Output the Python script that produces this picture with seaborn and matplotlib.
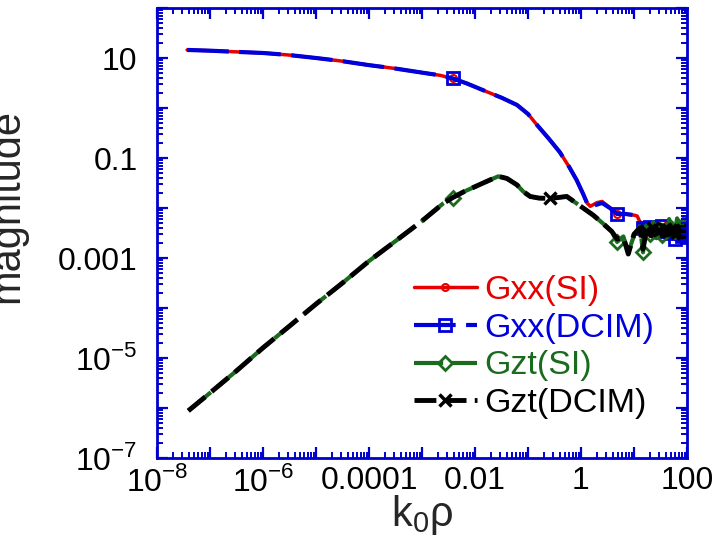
import numpy as np
import matplotlib
matplotlib.use("Agg")
import matplotlib.pyplot as plt
from matplotlib.ticker import LogLocator, NullFormatter
import seaborn as sns

# data (log-log)
k_gxx = [3.7e-8, 1e-7, 3e-7, 1e-6, 3e-6, 1e-5, 3e-5, 1e-4, 3e-4, 1e-3,
         2.2e-3, 3.8e-3, 7e-3, 0.017, 0.032, 0.062, 0.1, 0.15, 0.25, 0.4,
         0.6, 0.83, 1.1, 1.3, 1.5, 2.0, 2.5, 3.5, 4.8, 7, 10, 11.5, 13, 14.8,
         17, 20, 23, 26, 30, 34, 38, 42, 46, 50, 55, 60, 65, 70, 75, 80, 85, 90, 95, 100]
gxx_si = [14.5, 14.0, 13.3, 12.6, 11.5, 10.0, 8.7, 7.2, 6.2, 5.1,
          4.5, 3.9, 3.1, 2.1, 1.6, 1.15, 0.76, 0.45, 0.24, 0.13,
          0.066, 0.036, 0.019, 0.0126, 0.0108, 0.0128, 0.0135, 0.0102, 0.0076, 0.0075, 0.0072, 0.0069, 0.0052, 0.0041,
          0.0046, 0.0033, 0.0040, 0.0029, 0.0036, 0.0026, 0.0034, 0.0045, 0.0028, 0.0033, 0.0024, 0.0037,
          0.0027, 0.0031, 0.0023, 0.0030, 0.0025, 0.0034, 0.0022, 0.0027]
gxx_dcim = [14.5, 14.0, 13.3, 12.6, 11.5, 10.0, 8.7, 7.2, 6.2, 5.1,
            4.5, 3.9, 3.1, 2.1, 1.6, 1.15, 0.76, 0.45, 0.24, 0.13,
            0.066, 0.036, 0.019, 0.0126, 0.0105, 0.0117, 0.0126, 0.0100, 0.0076, 0.0076, 0.0072, 0.0069, 0.0050, 0.0040,
            0.0032, 0.0041, 0.0028, 0.0036, 0.0030, 0.0044, 0.0027, 0.0034, 0.0025, 0.0031, 0.0038, 0.0024,
            0.0030, 0.0035, 0.0022, 0.0028, 0.0024, 0.0032, 0.0021, 0.0026]

k_gzt = [3.9e-8, 1e-7, 3.2e-7, 1e-6, 3.2e-6, 1e-5, 3.2e-5, 1e-4, 3.2e-4, 1e-3,
         2.5e-3, 3.8e-3, 6.3e-3, 0.0166, 0.0275, 0.04, 0.062, 0.081, 0.11, 0.16,
         0.26, 0.54, 0.83, 1.7, 2.6, 3.8, 4.8, 6.3, 7.8, 10, 12.9, 14.8,
         17, 20, 23, 26, 30, 34, 38, 42, 46, 50, 55, 60, 65, 70, 75, 80, 85, 90, 95, 100]
gzt_si = [8.8e-7, 2.0e-6, 5.6e-6, 1.6e-5, 4.4e-5, 1.2e-4, 3.2e-4, 8.7e-4, 2.2e-3, 5.5e-3,
          0.0123, 0.0162, 0.0214, 0.034, 0.043, 0.039, 0.029, 0.0214, 0.017, 0.0158,
          0.0155, 0.017, 0.0123, 0.0072, 0.0049, 0.0034, 0.0021, 0.0027, 0.0013, 0.0028, 0.0043, 0.0013,
          0.0045, 0.0030, 0.0052, 0.0034, 0.0048, 0.0029, 0.0055, 0.0036, 0.0060, 0.0040,
          0.0058, 0.0035, 0.0062, 0.0042, 0.0057, 0.0038, 0.0061, 0.0044, 0.0058, 0.0050]
gzt_dcim = [8.8e-7, 2.0e-6, 5.6e-6, 1.6e-5, 4.4e-5, 1.2e-4, 3.2e-4, 8.7e-4, 2.2e-3, 5.5e-3,
            0.0123, 0.0162, 0.0214, 0.034, 0.043, 0.039, 0.029, 0.0214, 0.017, 0.0158,
            0.0155, 0.017, 0.0123, 0.0072, 0.0049, 0.0034, 0.0024, 0.0026, 0.0012, 0.0030, 0.0040, 0.0015,
            0.0035, 0.0026, 0.0040, 0.0030, 0.0036, 0.0025, 0.0038, 0.0029, 0.0034, 0.0027,
            0.0037, 0.0028, 0.0033, 0.0026, 0.0036, 0.0029, 0.0032, 0.0027, 0.0035, 0.0030]

labels = ["Gxx(SI)", "Gxx(DCIM)", "Gzt(SI)", "Gzt(DCIM)"]

x_ticks = [1e-8, 1e-7, 1e-6, 1e-5, 1e-4, 1e-3, 1e-2, 1e-1, 1, 10, 100]
x_ticklabels = ["10$^{\\mathrm{-8}}$", "", "10$^{\\mathrm{-6}}$", "", "0.0001", "", "0.01", "", "1", "", "100"]
y_ticks = [1e-7, 1e-6, 1e-5, 1e-4, 1e-3, 1e-2, 1e-1, 1, 10, 100]
y_ticklabels = ["10$^{\\mathrm{-7}}$", "", "10$^{\\mathrm{-5}}$", "", "0.001", "", "0.1", "", "10", ""]

# style
sns.set_style("ticks")
plt.rcParams["font.family"] = ["Liberation Sans", "DejaVu Sans"]
plt.rcParams["mathtext.fontset"] = "custom"
plt.rcParams["mathtext.rm"] = "Liberation Sans"
plt.rcParams["axes.unicode_minus"] = False

red = "#e60000"
blue = "#0000dd"
green = "#1a6b1e"
axblue = "#0000cc"

fig = plt.figure(figsize=(7.18, 5.4), dpi=100)
ax = fig.add_axes([157 / 718, 1 - 458 / 540, 530 / 718, 450 / 540])
ax.set_xscale("log")
ax.set_yscale("log")

# which points carry a marker
gxx_marks = [11, 28, 33] + list(range(35, 54, 2))
gzt_marks = [11, 26, 31] + list(range(33, 52, 2))
gztd_marks = [20] + list(range(32, 52, 2))

sns.lineplot(x=k_gxx, y=gxx_si, ax=ax, color=red, lw=2.5, label=labels[0],
             marker="o", ms=5, mew=1.5, mfc="none", mec=red, markevery=gxx_marks)
sns.lineplot(x=k_gxx, y=gxx_dcim, ax=ax, color=blue, lw=3, label=labels[1],
             linestyle=(0, (10, 2.5)), marker="s", ms=8, mew=2, mfc="none", mec=blue,
             markevery=gxx_marks)
sns.lineplot(x=k_gzt, y=gzt_si, ax=ax, color=green, lw=3, label=labels[2],
             linestyle=(0, (7, 2)), marker="D", ms=7, mew=2, mfc="none", mec=green,
             markevery=gzt_marks)
sns.lineplot(x=k_gzt, y=gzt_dcim, ax=ax, color="black", lw=3.5, label=labels[3],
             linestyle=(0, (4.5, 1.7)), marker="x", ms=9, mew=2.5, mec="black",
             markevery=gztd_marks)

ax.set_xlim(1e-8, 100)
ax.set_ylim(1e-7, 100)
ax.set_xticks(x_ticks)
ax.set_xticklabels(x_ticklabels)
ax.set_yticks(y_ticks)
ax.set_yticklabels(y_ticklabels)
ax.xaxis.set_minor_locator(LogLocator(base=10, subs=np.arange(2, 10), numticks=100))
ax.yaxis.set_minor_locator(LogLocator(base=10, subs=np.arange(2, 10), numticks=100))
ax.xaxis.set_minor_formatter(NullFormatter())
ax.yaxis.set_minor_formatter(NullFormatter())

for s in ax.spines.values():
    s.set_color(axblue)
    s.set_linewidth(2)

ax.set_xlabel("k$_{\\mathrm{0}}$ρ", fontsize=30, labelpad=-4)
ax.set_ylabel("magnitude", fontsize=30)
ax.yaxis.set_label_coords(-0.245, 0.56)

ax.legend(loc="upper left", bbox_to_anchor=(0.44, 0.46), frameon=False, fontsize=24.5,
          handlelength=1.85, handletextpad=0.2, labelspacing=0.2, borderpad=0.2,
          labelcolor="linecolor", numpoints=1)


def style_ticks():
    ax.set_axisbelow(False)
    ax.tick_params(which="both", direction="in", top=True, right=True, bottom=True, left=True,
                   color=axblue, labelcolor="black")
    ax.tick_params(which="major", length=8, width=1.6, labelsize=23)
    ax.tick_params(which="minor", length=4.5, width=1.4)
    ax.tick_params(axis="x", which="major", pad=6)
    ax.tick_params(axis="y", which="major", pad=14)


def ticks_drawn():
    # save, read back and look for blue tick pixels just inside the bottom spine
    fig.savefig("out.png", dpi=100)
    img = plt.imread("out.png")
    h = img.shape[0]
    hits = 0
    for xv in x_ticks[2:6]:
        px, py = ax.transData.transform((xv, y_ticks[0]))
        c, r = int(round(px)), int(round(h - py))
        patch = img[r - 9:r - 4, c - 2:c + 3, :3].reshape(-1, 3)
        if np.any((patch[:, 2] > 0.5) & (patch[:, 0] < 0.4) & (patch[:, 1] < 0.4)):
            hits += 1
    return hits >= 3


style_ticks()
if not ticks_drawn():
    ax.xaxis.set_zorder(5)
    ax.yaxis.set_zorder(5)
    if not ticks_drawn():
        ax.xaxis.reset_ticks()
        ax.yaxis.reset_ticks()
        style_ticks()
        fig.canvas.draw()
        for axis in (ax.xaxis, ax.yaxis):
            for t in axis.get_major_ticks() + axis.get_minor_ticks():
                for ln in (t.tick1line, t.tick2line):
                    ln.set_visible(True)
                    ln.set_color(axblue)
                    ln.set_zorder(6)
        ticks_drawn()

fig.savefig("out.png", dpi=100)
